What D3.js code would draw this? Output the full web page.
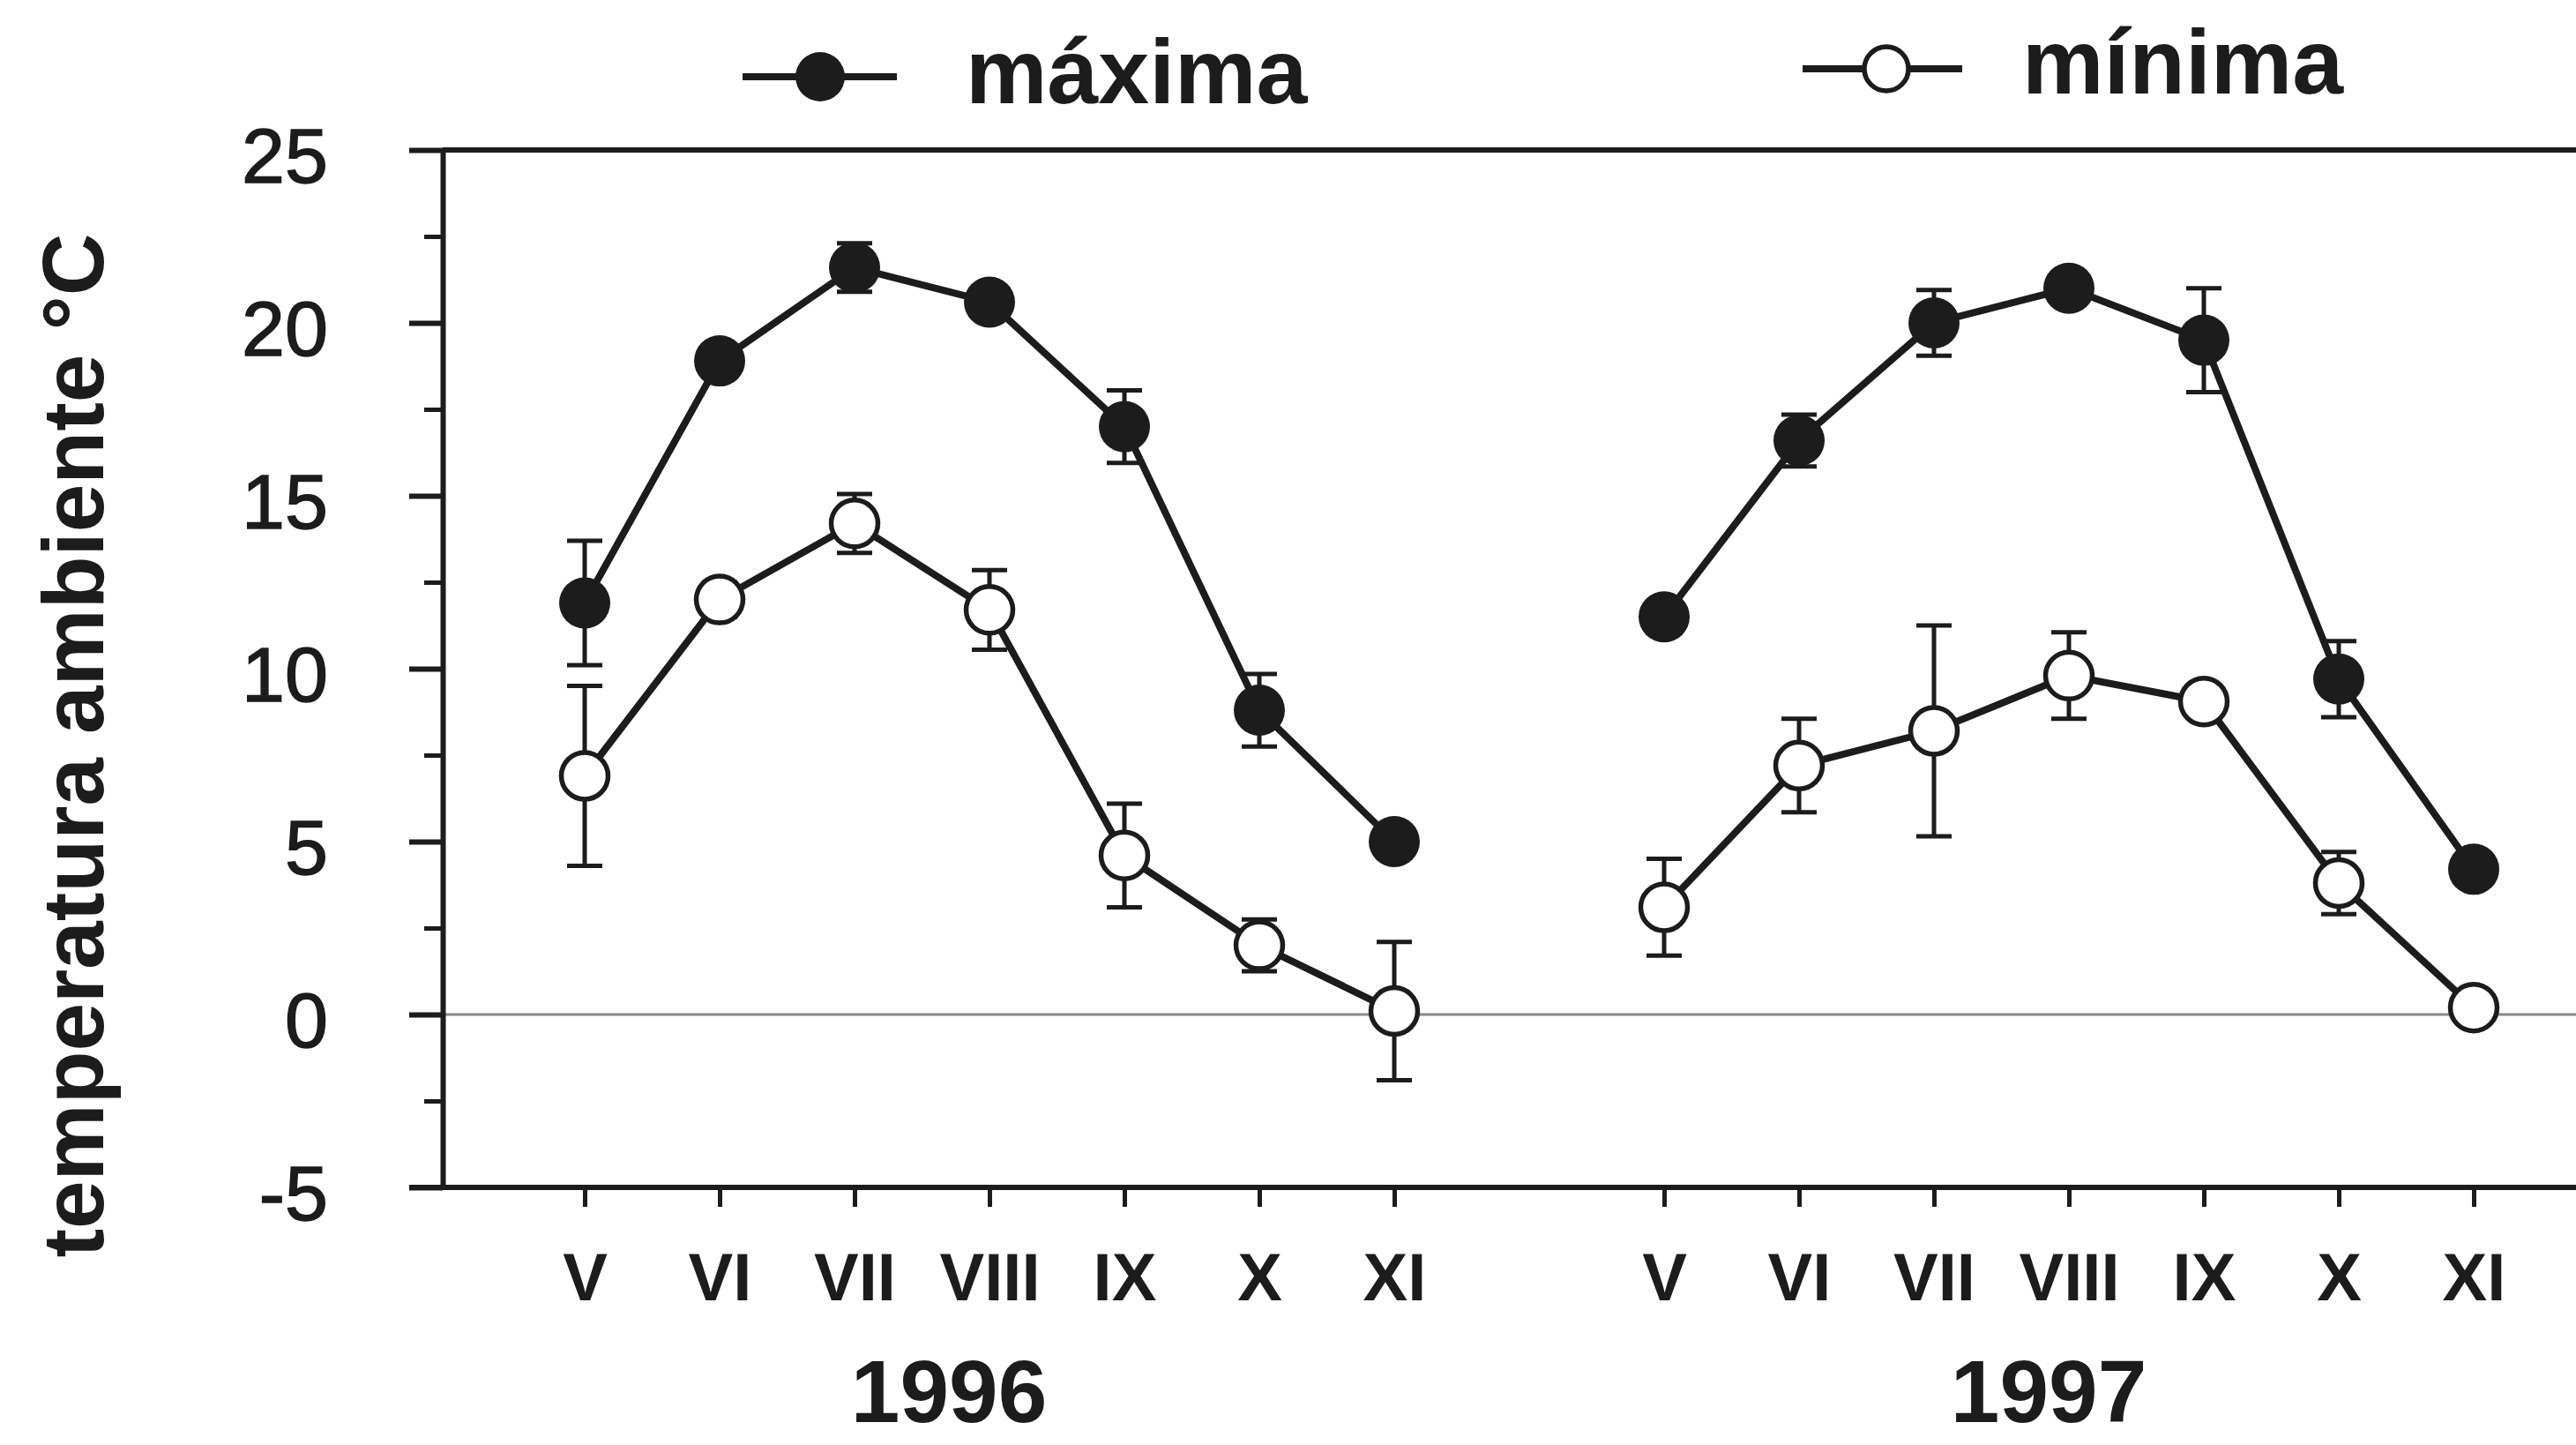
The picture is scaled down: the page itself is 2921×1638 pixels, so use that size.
<!DOCTYPE html>
<html>
<head>
<meta charset="utf-8">
<script src="https://cdn.jsdelivr.net/npm/d3@7"></script>
<style>
  body { margin: 0; background: #fff; }
  svg { display: block; font-family: "Liberation Sans", Arial, sans-serif; }
</style>
</head>
<body>
<div id="chart"></div>
<script>
// Svg size
var svgWidth = 2921;
var svgHeight = 1638;

// Data
var months = ["V", "VI", "VII", "VIII", "IX", "X", "XI"];
var years = ["1996", "1997"];
var yTicks = [-5, 0, 5, 10, 15, 20, 25];

var max1996 = [11.9, 18.9, 21.6, 20.6, 17.0, 8.8, 5.0];
var maxErr1996 = [1.8, 0.3, 0.7, 0.2, 1.05, 1.05, 0.2];
var min1996 = [6.9, 12.0, 14.2, 11.7, 4.6, 2.0, 0.1];
var minErr1996 = [2.6, 0.5, 0.85, 1.15, 1.5, 0.75, 2.0];

var max1997 = [11.5, 16.6, 20.0, 21.0, 19.5, 9.7, 4.2];
var maxErr1997 = [0.3, 0.75, 0.95, 0.2, 1.5, 1.1, 0.2];
var min1997 = [3.1, 7.2, 8.2, 9.8, 9.05, 3.8, 0.2];
var minErr1997 = [1.4, 1.35, 3.05, 1.25, 0.3, 0.9, 0.2];

var ink = "#1c1c1c";

// Plot area
var plotLeft = 502, plotTop = 170, plotBottom = 1346, plotRight = svgWidth;

var svg = d3.select("#chart").append("svg")
    .attr("width", svgWidth)
    .attr("height", svgHeight);

// Scales: months of both years on one index axis, two empty slots between
var x = d3.scaleLinear().domain([0, 14]).range([663, 2805]);
var y = d3.scaleLinear().domain([-5, 25]).range([plotBottom, plotTop]);

// build series
function build(vals, errs, yearIdx) {
    return vals.map(function(v, i) {
        return { i: i + yearIdx * 8, v: v, e: errs[i] };
    });
}
var series = [
    { key: "max", filled: true, data: build(max1996, maxErr1996, 0) },
    { key: "max", filled: true, data: build(max1997, maxErr1997, 1) },
    { key: "min", filled: false, data: build(min1996, minErr1996, 0) },
    { key: "min", filled: false, data: build(min1997, minErr1997, 1) }
];

// zero line
svg.append("line")
    .attr("x1", plotLeft).attr("x2", plotRight)
    .attr("y1", y(0)).attr("y2", y(0))
    .attr("stroke", "#8a8a8a")
    .attr("stroke-width", 3);

// Y axis: minor ticks
var minorAxis = d3.axisLeft(y)
    .tickValues(d3.range(-2.5, 25, 5))
    .tickSize(21)
    .tickFormat("");
svg.append("g")
    .attr("transform", `translate(${plotLeft},0)`)
    .call(minorAxis)
    .call(g => g.select(".domain").remove())
    .selectAll("line").attr("stroke", ink).attr("stroke-width", 5);

// Y axis: major ticks
var leftAxis = d3.axisLeft(y)
    .tickValues(yTicks)
    .tickSize(38)
    .tickSizeOuter(0)
    .tickPadding(92)
    .tickFormat(d => String(d));
var yAxis = svg.append("g")
    .attr("transform", `translate(${plotLeft},0)`)
    .call(leftAxis);
yAxis.select(".domain").attr("stroke", ink).attr("stroke-width", 6);
yAxis.selectAll("line").attr("stroke", ink).attr("stroke-width", 6);
yAxis.selectAll("text")
    .attr("fill", ink)
    .attr("font-size", 88)
    .attr("font-family", "Liberation Sans, Arial, sans-serif")
    .attr("stroke", ink)
    .attr("stroke-width", 1.5)
    .attr("dy", "0.42em");

// top frame line
svg.append("line")
    .attr("x1", plotLeft).attr("x2", plotRight)
    .attr("y1", y(25)).attr("y2", y(25))
    .attr("stroke", ink).attr("stroke-width", 6);

// X axis
var tickIdx = d3.range(0, 7).concat(d3.range(8, 15));
var bottomAxis = d3.axisBottom(x)
    .tickValues(tickIdx)
    .tickSize(22)
    .tickSizeOuter(0)
    .tickPadding(52)
    .tickFormat(d => months[d % 8]);
var xAxis = svg.append("g")
    .attr("transform", `translate(0,${plotBottom})`)
    .call(bottomAxis);
xAxis.select(".domain").attr("d", `M${plotLeft - 38},0H${plotRight}`)
    .attr("stroke", ink).attr("stroke-width", 6);
xAxis.selectAll("line").attr("stroke", ink).attr("stroke-width", 5);
xAxis.selectAll("text")
    .attr("fill", ink)
    .attr("font-size", 76)
    .attr("font-weight", "bold")
    .attr("font-family", "Liberation Sans, Arial, sans-serif");

// year labels
svg.selectAll(".year")
    .data(years)
    .enter()
    .append("text")
    .attr("class", "year")
    .attr("x", (d, i) => i === 0 ? x(2.7) : x(10.85))
    .attr("y", 1612)
    .attr("text-anchor", "middle")
    .attr("font-size", 100)
    .attr("font-weight", "bold")
    .attr("fill", ink)
    .text(d => d);

// Y axis title
svg.append("text")
    .attr("transform", "translate(117,845) rotate(-90)")
    .attr("text-anchor", "middle")
    .attr("font-size", 98)
    .attr("font-weight", "bold")
    .attr("fill", ink)
    .text("temperatura ambiente °C");

// error bars
var capW = 20;
var errG = svg.append("g");
series.forEach(function(s) {
    var g = errG.append("g");
    g.selectAll(".err")
        .data(s.data)
        .enter()
        .append("path")
        .attr("d", d => {
            var cx = x(d.i), y1 = y(d.v + d.e), y2 = y(d.v - d.e);
            return `M${cx},${y1}V${y2}M${cx - capW},${y1}H${cx + capW}M${cx - capW},${y2}H${cx + capW}`;
        })
        .attr("fill", "none")
        .attr("stroke", ink)
        .attr("stroke-width", 5);
});

// lines
var line = d3.line().x(d => x(d.i)).y(d => y(d.v));
series.forEach(function(s) {
    svg.append("path")
        .datum(s.data)
        .attr("d", line)
        .attr("fill", "none")
        .attr("stroke", ink)
        .attr("stroke-width", 8);
});

// markers
series.forEach(function(s) {
    svg.append("g").selectAll("circle")
        .data(s.data)
        .enter()
        .append("circle")
        .attr("cx", d => x(d.i))
        .attr("cy", d => y(d.v))
        .attr("r", s.filled ? 29 : 26.5)
        .attr("fill", s.filled ? ink : "#fff")
        .attr("stroke", ink)
        .attr("stroke-width", s.filled ? 0 : 5.5);
});

// legend
var legend = [
    { label: "máxima", filled: true, x1: 842, x2: 1017, cx: 930, cy: 87, tx: 1095, ty: 117 },
    { label: "mínima", filled: false, x1: 2044, x2: 2225, cx: 2139, cy: 78, tx: 2293, ty: 106 }
];
legend.forEach(function(l) {
    var g = svg.append("g");
    g.append("line")
        .attr("x1", l.x1).attr("x2", l.x2)
        .attr("y1", l.cy).attr("y2", l.cy)
        .attr("stroke", ink).attr("stroke-width", 8);
    g.append("circle")
        .attr("cx", l.cx).attr("cy", l.cy)
        .attr("r", l.filled ? 28 : 25)
        .attr("fill", l.filled ? ink : "#fff")
        .attr("stroke", ink)
        .attr("stroke-width", l.filled ? 0 : 5.5);
    g.append("text")
        .attr("x", l.tx).attr("y", l.ty)
        .attr("font-size", 104)
        .attr("font-weight", "bold")
        .attr("fill", ink)
        .text(l.label);
});
</script>
</body>
</html>
